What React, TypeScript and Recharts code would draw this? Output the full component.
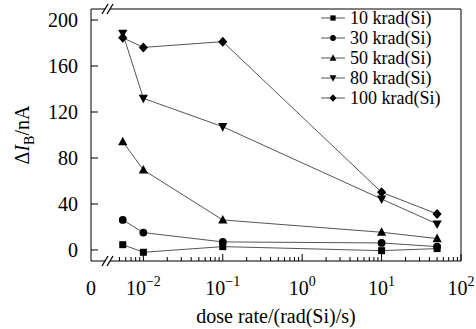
import React from 'react';
import { LineChart, Line, XAxis, YAxis, Legend } from 'recharts';

// dose rate (rad(Si)/s) for each measurement
const DOSE_RATES = [0.0055, 0.01, 0.1, 10, 50];

// ΔIB (nA) per total dose
const IB_10 = [4.6, -2.0, 2.9, -0.6, 1.2];
const IB_30 = [26.1, 15.1, 7.0, 6.1, 2.9];
const IB_50 = [94.2, 69.6, 26.1, 15.4, 9.9];
const IB_80 = [188.4, 131.9, 107.2, 44.3, 22.6];
const IB_100 = [184.6, 176.2, 181.2, 50.2, 31.3];

const SERIES_NAMES = ['10 krad(Si)', '30 krad(Si)', '50 krad(Si)', '80 krad(Si)', '100 krad(Si)'];
const SERIES_KEYS = ['d10', 'd30', 'd50', 'd80', 'd100'];
const SERIES_SHAPES = ['square', 'circle', 'up', 'down', 'diamond'];

// the "0" end of the broken log axis
const X_ZERO = 0.00219;
const X_MAX = 100;
const MAJOR_X = [0.01, 0.1, 1, 10, 100];
const MAJOR_EXP = ['\u22122', '\u22121', '0', '1', '2'];
const MINOR_X = [
  0.005, 0.006, 0.007, 0.008, 0.009,
  0.02, 0.03, 0.04, 0.05, 0.06, 0.07, 0.08, 0.09,
  0.2, 0.3, 0.4, 0.5, 0.6, 0.7, 0.8, 0.9,
  2, 3, 4, 5, 6, 7, 8, 9,
  20, 30, 40, 50, 60, 70, 80, 90,
];
const Y_TICKS = [0, 40, 80, 120, 160, 200];
const Y_DOMAIN = [-9.6, 209.6];

const data = DOSE_RATES.map((x, i) => ({
  x,
  d10: IB_10[i],
  d30: IB_30[i],
  d50: IB_50[i],
  d80: IB_80[i],
  d100: IB_100[i],
}));

const FONT = '"Liberation Serif", "Times New Roman", serif';
const FS = 20;
const LINE_COLOR = '#555';
const PLOT_H = 252;

const Marker = ({ cx, cy, shape, k = 1 }: { cx: number; cy: number; shape: string; k?: number }) => {
  if (shape === 'square') {
    const s = 7 * k;
    return <rect x={cx - s / 2} y={cy - s / 2} width={s} height={s} fill="#000" />;
  }
  if (shape === 'circle') return <circle cx={cx} cy={cy} r={3.9 * k} fill="#000" />;
  if (shape === 'up')
    return <polygon points={`${cx},${cy - 5 * k} ${cx - 4.6 * k},${cy + 3.6 * k} ${cx + 4.6 * k},${cy + 3.6 * k}`} fill="#000" />;
  if (shape === 'down')
    return <polygon points={`${cx},${cy + 5 * k} ${cx - 4.6 * k},${cy - 3.6 * k} ${cx + 4.6 * k},${cy - 3.6 * k}`} fill="#000" />;
  return <polygon points={`${cx},${cy - 5 * k} ${cx + 4.6 * k},${cy} ${cx},${cy + 5 * k} ${cx - 4.6 * k},${cy}`} fill="#000" />;
};

const makeDot = (shape: string) => (p: any) =>
  <Marker key={`${shape}-${p.index}`} cx={p.cx} cy={p.cy} shape={shape} />;

// bottom axis: inward ticks, 10^n labels, axis-break marks at the 0 end
const XTick = (props: any) => {
  const { x, y, payload } = props;
  const v = payload.value;
  if (v === X_ZERO) {
    const brk = (by: number) => (
      <g>
        <polygon points={`${x + 11},${by + 5} ${x + 17},${by - 5} ${x + 22},${by - 5} ${x + 16},${by + 5}`} fill="#fff" />
        <line x1={x + 11} y1={by + 5} x2={x + 17} y2={by - 5} stroke="#000" strokeWidth={1.3} />
        <line x1={x + 16} y1={by + 5} x2={x + 22} y2={by - 5} stroke="#000" strokeWidth={1.3} />
      </g>
    );
    return (
      <g>
        {brk(y)}
        {brk(y - PLOT_H)}
        <text x={x} y={y + 34} textAnchor="middle" fontFamily={FONT} fontSize={FS} fill="#000">0</text>
      </g>
    );
  }
  const mi = MAJOR_X.indexOf(v);
  if (mi < 0) return <line x1={x} y1={y} x2={x} y2={y - 4} stroke="#000" strokeWidth={1} />;
  return (
    <g>
      <line x1={x} y1={y} x2={x} y2={y - 7} stroke="#000" strokeWidth={1} />
      <text x={x} y={y + 34} textAnchor="middle" fontFamily={FONT} fontSize={FS} fill="#000">
        <tspan>10</tspan>
        <tspan dy={-9} fontSize={14}>{MAJOR_EXP[mi]}</tspan>
      </text>
    </g>
  );
};

const YTick = (props: any) => {
  const { x, y, payload } = props;
  return (
    <g>
      <line x1={x} y1={y} x2={x + 7} y2={y} stroke="#000" strokeWidth={1} />
      <text x={x - 13} y={y} dy="0.35em" textAnchor="end" fontFamily={FONT} fontSize={FS} fill="#000">
        {payload.value}
      </text>
    </g>
  );
};

const XTitle = (props: any) => {
  const { x, y, width } = props.viewBox;
  return (
    <text x={x + width / 2} y={y + 62} textAnchor="middle" fontFamily={FONT} fontSize={FS} fill="#000">
      dose rate/(rad(Si)/s)
    </text>
  );
};

const YTitle = (props: any) => {
  const { y, height } = props.viewBox;
  const cx = 29;
  const cy = y + height / 2;
  return (
    <text x={cx} y={cy} transform={`rotate(-90 ${cx} ${cy})`} textAnchor="middle" fontFamily={FONT} fontSize={FS} fill="#000">
      <tspan>Δ</tspan>
      <tspan fontStyle="italic">I</tspan>
      <tspan fontSize={14} dy={5}>B</tspan>
      <tspan dy={-5}>/nA</tspan>
    </text>
  );
};

const LegendBox = () => (
  <div style={{ fontFamily: FONT, fontSize: 18, lineHeight: '20px', color: '#000' }}>
    {SERIES_NAMES.map((name, i) => (
      <div key={name} style={{ display: 'flex', alignItems: 'center', height: 20, whiteSpace: 'nowrap' }}>
        <svg width={24} height={12} style={{ marginRight: 5 }}>
          <line x1={0} y1={6} x2={24} y2={6} stroke={LINE_COLOR} strokeWidth={1} />
          <Marker cx={12} cy={6} shape={SERIES_SHAPES[i]} k={0.75} />
        </svg>
        <span>{name}</span>
      </div>
    ))}
  </div>
);

export default function App() {
  return (
    <div style={{ position: 'absolute', left: 0, top: 0, background: '#fff' }}>
      <LineChart width={476} height={329} data={data} margin={{ top: 8, right: 14, bottom: 0, left: 0 }}>
        <XAxis
          xAxisId="top"
          orientation="top"
          dataKey="x"
          type="number"
          scale="log"
          domain={[X_ZERO, X_MAX]}
          allowDataOverflow
          height={1}
          tick={false}
          tickLine={false}
          axisLine={{ stroke: '#000', strokeWidth: 1 }}
        />
        <YAxis
          yAxisId="right"
          orientation="right"
          type="number"
          domain={Y_DOMAIN}
          allowDataOverflow
          width={1}
          tick={false}
          tickLine={false}
          axisLine={{ stroke: '#000', strokeWidth: 1 }}
        />
        <YAxis
          type="number"
          domain={Y_DOMAIN}
          allowDataOverflow
          ticks={Y_TICKS}
          interval={0}
          width={91}
          tickSize={0}
          tickMargin={0}
          tickLine={false}
          tick={<YTick />}
          axisLine={{ stroke: '#000', strokeWidth: 1 }}
          label={<YTitle />}
        />
        <XAxis
          dataKey="x"
          type="number"
          scale="log"
          domain={[X_ZERO, X_MAX]}
          allowDataOverflow
          ticks={[X_ZERO, ...MAJOR_X, ...MINOR_X]}
          interval={0}
          height={68}
          tickSize={0}
          tickMargin={0}
          tickLine={false}
          tick={<XTick />}
          axisLine={{ stroke: '#000', strokeWidth: 1 }}
          label={<XTitle />}
        />
        {SERIES_KEYS.map((k, i) => (
          <Line
            key={k}
            dataKey={k}
            name={SERIES_NAMES[i]}
            stroke={LINE_COLOR}
            strokeWidth={1}
            dot={makeDot(SERIES_SHAPES[i])}
            activeDot={false}
            isAnimationActive={false}
          />
        ))}
        <Legend
          layout="horizontal"
          verticalAlign="middle"
          align="center"
          content={<LegendBox />}
          wrapperStyle={{ top: 8, left: 321, width: 140 }}
        />
      </LineChart>
    </div>
  );
}
